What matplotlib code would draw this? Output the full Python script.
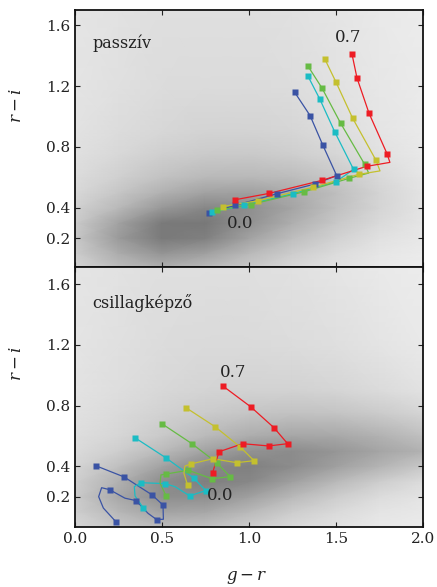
import matplotlib
matplotlib.use("Agg")
import matplotlib.pyplot as plt
import numpy as np

plt.rcParams['font.family'] = ['DejaVu Serif']
plt.rcParams['mathtext.fontset'] = 'dejavuserif'

# ---------------- colours of the five model tracks ----------------
track_colors = ['#3a53a4', '#1bbcc4', '#66bb44', '#c4c02e', '#ed1c24']

# ---------------- top panel (passzív) markers, z = 0.0 ... 0.7 ----------------
top_blue_gr = [0.770, 0.920, 1.161, 1.379, 1.504, 1.423, 1.351, 1.262]
top_blue_ri = [0.365, 0.415, 0.492, 0.556, 0.611, 0.815, 1.006, 1.160]
top_cyan_gr = [0.789, 0.971, 1.251, 1.500, 1.601, 1.494, 1.408, 1.339]
top_cyan_ri = [0.371, 0.415, 0.492, 0.571, 0.652, 0.896, 1.112, 1.265]
top_green_gr = [0.814, 1.010, 1.318, 1.575, 1.665, 1.527, 1.420, 1.339]
top_green_ri = [0.382, 0.421, 0.505, 0.593, 0.685, 0.955, 1.186, 1.331]
top_yellow_gr = [0.851, 1.052, 1.366, 1.630, 1.730, 1.596, 1.500, 1.437]
top_yellow_ri = [0.408, 0.446, 0.534, 0.619, 0.712, 0.988, 1.226, 1.375]
top_red_gr = [0.918, 1.115, 1.420, 1.676, 1.793, 1.690, 1.621, 1.592]
top_red_ri = [0.452, 0.494, 0.580, 0.672, 0.756, 1.021, 1.252, 1.410]

# extra bends of the continuous tracks: (insert after marker index, g-r, r-i)
top_blue_bends = []
top_cyan_bends = []
top_green_bends = [(3, 1.688, 0.628)]
top_yellow_bends = [(3, 1.753, 0.642)]
top_red_bends = [(3, 1.810, 0.698)]

# ---------------- bottom panel (csillagképző) markers ----------------
bot_blue_gr = [0.234, 0.199, 0.351, 0.469, 0.506, 0.441, 0.282, 0.119]
bot_blue_ri = [0.036, 0.246, 0.174, 0.049, 0.145, 0.213, 0.330, 0.404]
bot_cyan_gr = [0.391, 0.379, 0.517, 0.659, 0.751, 0.682, 0.521, 0.345]
bot_cyan_ri = [0.128, 0.292, 0.286, 0.205, 0.240, 0.323, 0.457, 0.588]
bot_green_gr = [0.523, 0.523, 0.651, 0.787, 0.891, 0.814, 0.672, 0.500]
bot_green_ri = [0.207, 0.349, 0.374, 0.318, 0.332, 0.424, 0.549, 0.680]
bot_yellow_gr = [0.647, 0.665, 0.791, 0.929, 1.029, 0.950, 0.805, 0.638]
bot_yellow_ri = [0.277, 0.415, 0.450, 0.424, 0.437, 0.527, 0.661, 0.786]
bot_red_gr = [0.791, 0.828, 0.964, 1.113, 1.222, 1.144, 1.010, 0.849]
bot_red_ri = [0.358, 0.496, 0.549, 0.534, 0.549, 0.654, 0.792, 0.930]

bot_blue_bends = [(0, 0.163, 0.125), (0, 0.136, 0.200), (0, 0.153, 0.259),
                  (1, 0.287, 0.190), (2, 0.420, 0.090), (3, 0.508, 0.051)]
bot_cyan_bends = [(0, 0.345, 0.205), (0, 0.341, 0.266), (2, 0.575, 0.266)]
bot_green_bends = [(0, 0.489, 0.288), (0, 0.494, 0.343)]
bot_yellow_bends = [(0, 0.626, 0.354), (0, 0.632, 0.402)]
bot_red_bends = []

# ---------------- background density (grey level) ----------------
bg_gr = [0.0, 0.25, 0.5, 0.75, 1.0, 1.25, 1.5, 1.75, 2.0]
bg_ri = [0.0, 0.1, 0.2, 0.3, 0.4, 0.5, 0.6, 0.75, 0.9, 1.2, 1.71]
bg_top = [
    [212, 190, 178, 188, 202, 216, 226, 233, 236],
    [205, 172, 148, 160, 185, 205, 220, 230, 235],
    [200, 155, 122, 128, 162, 190, 210, 225, 232],
    [203, 162, 122, 120, 145, 175, 200, 218, 230],
    [210, 185, 152, 135, 142, 165, 192, 213, 228],
    [216, 198, 177, 162, 160, 172, 190, 212, 228],
    [220, 208, 194, 185, 184, 188, 200, 217, 230],
    [224, 216, 207, 202, 201, 206, 214, 225, 233],
    [226, 220, 215, 211, 211, 214, 221, 229, 234],
    [228, 224, 220, 219, 219, 221, 226, 231, 235],
    [229, 226, 223, 223, 223, 225, 229, 233, 236],
]
bg_bot = [
    [214, 198, 188, 192, 205, 218, 226, 232, 235],
    [207, 183, 163, 167, 185, 205, 218, 228, 232],
    [203, 168, 142, 142, 160, 185, 205, 220, 228],
    [207, 177, 142, 127, 135, 160, 185, 205, 220],
    [213, 192, 162, 137, 128, 140, 160, 180, 200],
    [219, 206, 186, 162, 146, 140, 150, 165, 178],
    [222, 214, 201, 186, 173, 166, 168, 178, 192],
    [225, 218, 210, 203, 197, 194, 196, 203, 213],
    [227, 222, 216, 212, 210, 210, 213, 219, 226],
    [228, 224, 220, 218, 218, 220, 223, 228, 233],
    [229, 226, 223, 223, 223, 225, 229, 233, 236],
]

panel_titles = ['passzív', 'csillagképző']
z_labels = ['0.0', '0.7']
x_ticks = [0.0, 0.5, 1.0, 1.5, 2.0]
y_ticks = [0.2, 0.4, 0.8, 1.2, 1.6]


def with_bends(gr, ri, bends):
    lx, ly = [], []
    for i in range(len(gr)):
        lx.append(gr[i]); ly.append(ri[i])
        for (k, bx, by) in bends:
            if k == i:
                lx.append(bx); ly.append(by)
    return lx, ly


fig = plt.figure(figsize=(4.37, 5.87), dpi=100)
ax1 = fig.add_axes([0.1716, 0.5443, 0.7963, 0.4387])
ax2 = fig.add_axes([0.1716, 0.1022, 0.7963, 0.4421])

top_tracks = [(top_blue_gr, top_blue_ri, top_blue_bends),
              (top_cyan_gr, top_cyan_ri, top_cyan_bends),
              (top_green_gr, top_green_ri, top_green_bends),
              (top_yellow_gr, top_yellow_ri, top_yellow_bends),
              (top_red_gr, top_red_ri, top_red_bends)]
bot_tracks = [(bot_blue_gr, bot_blue_ri, bot_blue_bends),
              (bot_cyan_gr, bot_cyan_ri, bot_cyan_bends),
              (bot_green_gr, bot_green_ri, bot_green_bends),
              (bot_yellow_gr, bot_yellow_ri, bot_yellow_bends),
              (bot_red_gr, bot_red_ri, bot_red_bends)]

for ax, bg, tracks, title, ylim in [(ax1, bg_top, top_tracks, panel_titles[0], (0.007, 1.70)),
                                    (ax2, bg_bot, bot_tracks, panel_titles[1], (0.0, 1.71))]:
    ax.pcolormesh(bg_gr, bg_ri, np.array(bg, dtype=float), cmap='gray',
                  vmin=0, vmax=255, shading='gouraud', zorder=0, rasterized=True)
    for (gr, ri, bends), col in zip(tracks, track_colors):
        lx, ly = with_bends(gr, ri, bends)
        ax.plot(lx, ly, '-', color=col, lw=0.9, zorder=2)
        ax.plot(gr, ri, 's', color=col, ms=4.3, mec='none', zorder=3)
    ax.set_xlim(0, 2.0)
    ax.set_ylim(*ylim)
    ax.set_xticks(x_ticks)
    ax.set_yticks(y_ticks)
    ax.tick_params(direction='in', length=3.5, width=0.8, top=True, right=True,
                   labelsize=11, colors='#222222')
    for s in ax.spines.values():
        s.set_linewidth(1.3)
        s.set_color('#111111')
    ax.text(0.05, 0.87 if ax is ax1 else 0.865, title, transform=ax.transAxes,
            fontsize=11.5, color='#222222', va='center', ha='left')
    ax.set_ylabel(r'$r - i$', fontsize=12, color='#222222')
    ax.yaxis.set_label_coords(-0.145, 0.63)

ax1.tick_params(labelbottom=False)
ax1.text(top_red_gr[-1] - 0.02, top_red_ri[-1] + 0.11, z_labels[1], fontsize=12,
         color='#222222', ha='center', va='center')
ax1.text(top_blue_gr[0] + 0.18, top_blue_ri[0] - 0.07, z_labels[0], fontsize=12,
         color='#222222', ha='center', va='center')
ax2.text(bot_red_gr[-1] + 0.06, bot_red_ri[-1] + 0.09, z_labels[1], fontsize=12,
         color='#222222', ha='center', va='center')
ax2.text(0.835, 0.205, z_labels[0], fontsize=12, color='#222222', ha='center', va='center')
ax2.set_xlabel(r'$g - r$', fontsize=12, color='#222222')
ax2.xaxis.set_label_coords(0.494, -0.16)

fig.savefig('out.png', dpi=100)
